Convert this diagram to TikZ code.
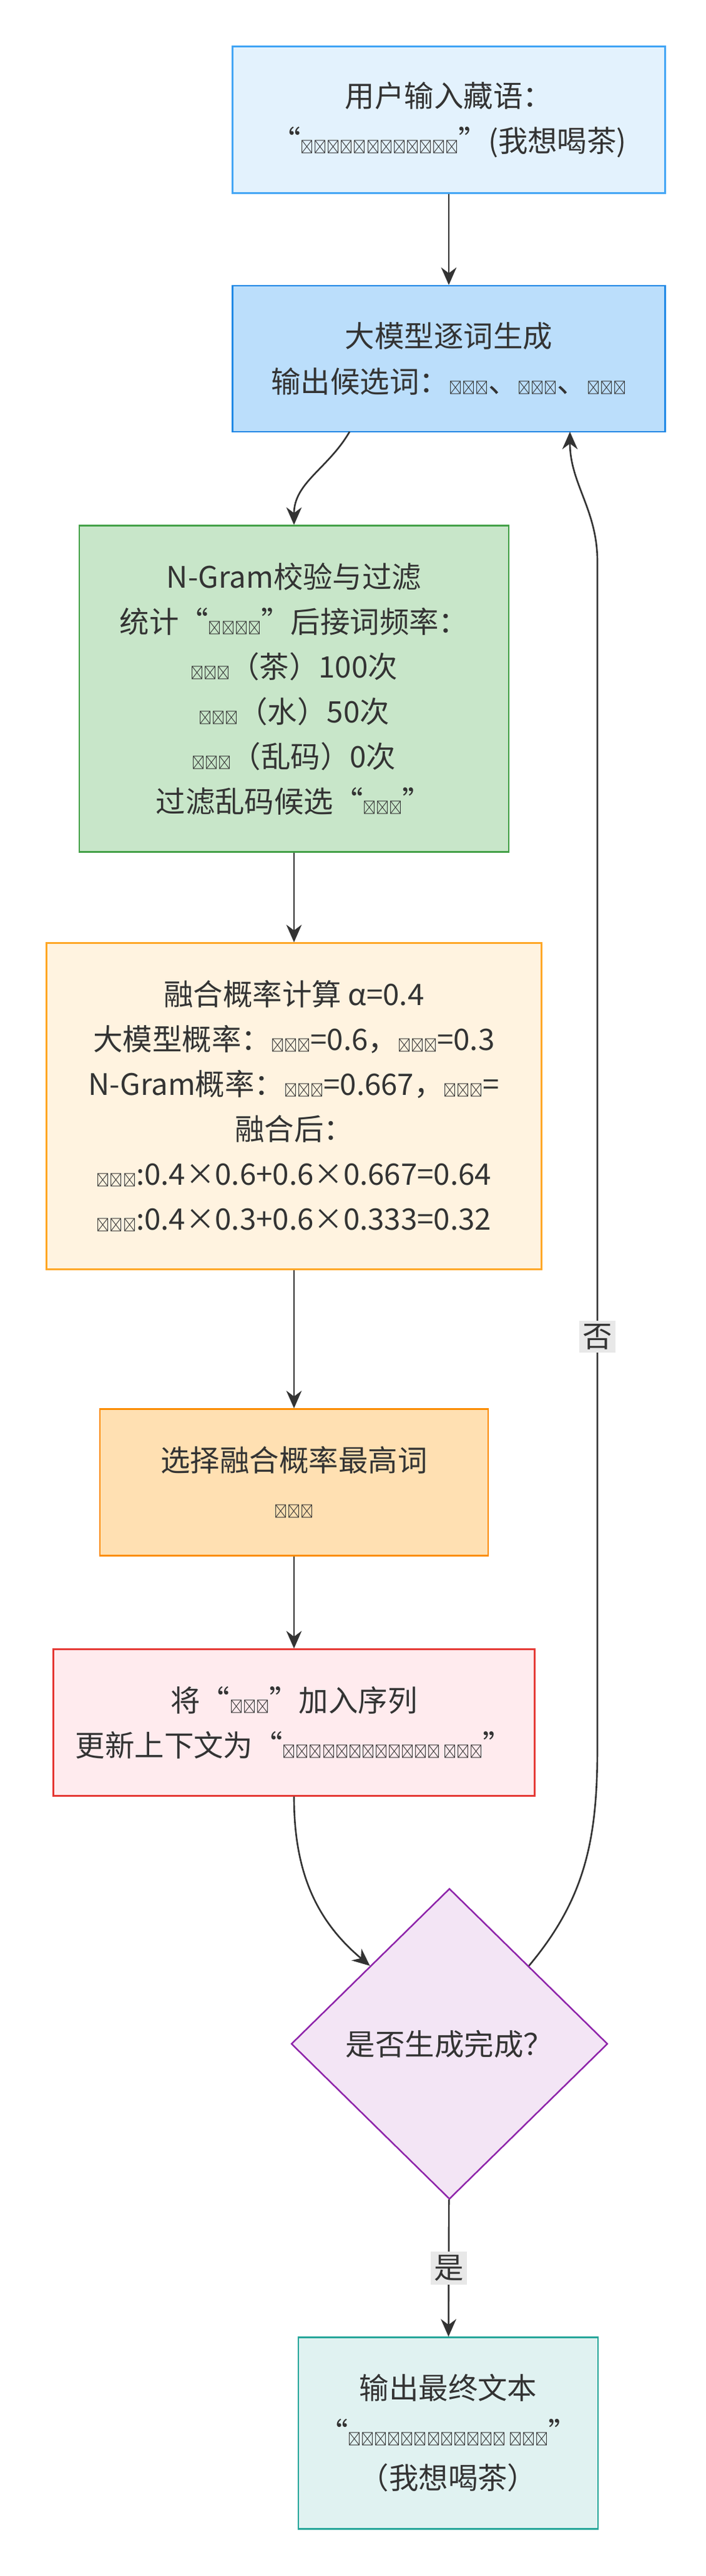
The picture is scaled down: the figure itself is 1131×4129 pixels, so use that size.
\documentclass[tikz,border=0pt]{standalone}
\usepackage{fontspec}
\setmainfont{Noto Sans CJK SC}
\usetikzlibrary{arrows.meta,positioning,shapes.geometric}
\definecolor{inpfill}{HTML}{E3F2FD}\definecolor{inpdraw}{HTML}{42A5F5}
\definecolor{llmfill}{HTML}{BBDEFB}\definecolor{llmdraw}{HTML}{1E88E5}
\definecolor{ngfill}{HTML}{C8E6C9}\definecolor{ngdraw}{HTML}{43A047}
\definecolor{mixfill}{HTML}{FFF3E0}\definecolor{mixdraw}{HTML}{FFA726}
\definecolor{selfill}{HTML}{FFE0B2}\definecolor{seldraw}{HTML}{FB8C00}
\definecolor{updfill}{HTML}{FFEBEE}\definecolor{upddraw}{HTML}{E53935}
\definecolor{decfill}{HTML}{F3E5F5}\definecolor{decdraw}{HTML}{8E24AA}
\definecolor{outfill}{HTML}{E0F2F1}\definecolor{outdraw}{HTML}{26A69A}
\definecolor{linecol}{HTML}{333333}
\definecolor{lblfill}{HTML}{E8E8E8}
% Tibetan words, set small as in the reference
\newcommand{\tib}[1]{{\fontsize{12}{12}\selectfont #1}}

\begin{document}
\begin{tikzpicture}[x=0.02cm,y=-0.02cm,
	box/.style={draw, line width=1.4pt, align=center, text=linecol,
		font=\fontsize{27}{41}\selectfont, inner sep=0pt},
	flow/.style={-{Stealth[length=16pt,width=14pt]}, line width=1.5pt, draw=linecol},
	lbl/.style={fill=lblfill, text=linecol, font=\fontsize{27}{30}\selectfont, inner sep=3pt}]
	\useasboundingbox (0,0) rectangle (1131,4129);

	\node[box, fill=inpfill, draw=inpdraw, minimum width=13.86cm, minimum height=4.7cm] (inp) at (719,192)
		{用户输入藏语：\\“\tib{ངས་ཁ་ཤས་འདུག}”(我想喝茶)};
	\node[box, fill=llmfill, draw=llmdraw, minimum width=13.86cm, minimum height=4.68cm] (llm) at (719,575)
		{大模型逐词生成\\输出候选词：\tib{ཛོག}、\tib{ཆོག}、\tib{མོག}};
	\node[box, fill=ngfill, draw=ngdraw, minimum width=13.76cm, minimum height=10.46cm] (ngram) at (471,1104)
		{N-Gram校验与过滤\\统计“\tib{འདུག}”后接词频率：\\\tib{ཆོག}（茶）100次\\\tib{མོག}（水）50次\\\tib{ཛོག}（乱码）0次\\过滤乱码候选“\tib{ཛོག}”};
	\node[box, fill=mixfill, draw=mixdraw, minimum width=15.86cm, minimum height=10.46cm] (mix) at (471,1773)
		{融合概率计算 α=0.4\\大模型概率：\tib{ཆོག}=0.6，\tib{མོག}=0.3\\N-Gram概率：\tib{ཆོག}=0.667，\tib{མོག}=\\融合后：\\\tib{ཆོག}:0.4×0.6+0.6×0.667=0.64\\\tib{མོག}:0.4×0.3+0.6×0.333=0.32};
	\node[box, fill=selfill, draw=seldraw, minimum width=12.44cm, minimum height=4.7cm] (sel) at (471,2376)
		{选择融合概率最高词\\\tib{ཆོག}};
	\node[box, fill=updfill, draw=upddraw, minimum width=15.42cm, minimum height=4.7cm] (upd) at (471,2761)
		{将“\tib{ཆོག}”加入序列\\更新上下文为“\tib{ངས་ཁ་ཤས་འདུག ཆོག}”};
	\node[diamond, draw=decdraw, fill=decfill, line width=1.4pt, text=linecol, aspect=1.02,
		minimum width=10.14cm, minimum height=9.96cm, inner sep=0pt,
		font=\fontsize{27}{30}\selectfont] (dec) at (720,3276) {是否生成完成？};
	\node[box, fill=outfill, draw=outdraw, minimum width=9.6cm, minimum height=6.14cm] (out) at (718,3900)
		{输出最终文本\\“\tib{ངས་ཁ་ཤས་འདུག ཆོག}”\\（我想喝茶）};

	\coordinate (llmout) at (560,692);
	\coordinate (llmin) at (913,692);
	\coordinate (backlo) at (957,2800);
	\coordinate (backhi) at (957,900);

	\draw[flow] (inp) -- (llm);
	\draw[flow] (llmout) to[out=-120,in=90] (ngram.north);
	\draw[flow] (ngram) -- (mix);
	\draw[flow] (mix) -- (sel);
	\draw[flow] (sel) -- (upd);
	\draw[flow] (upd.south) to[out=-90,in=140] (dec.north west);
	\draw[flow] (dec.north east) to[out=50,in=-90] (backlo) -- node[lbl, pos=0.346] {否} (backhi)
		to[out=90,in=-90] (llmin);
	\draw[flow] (dec) -- node[lbl] {是} (out);
\end{tikzpicture}
\end{document}
